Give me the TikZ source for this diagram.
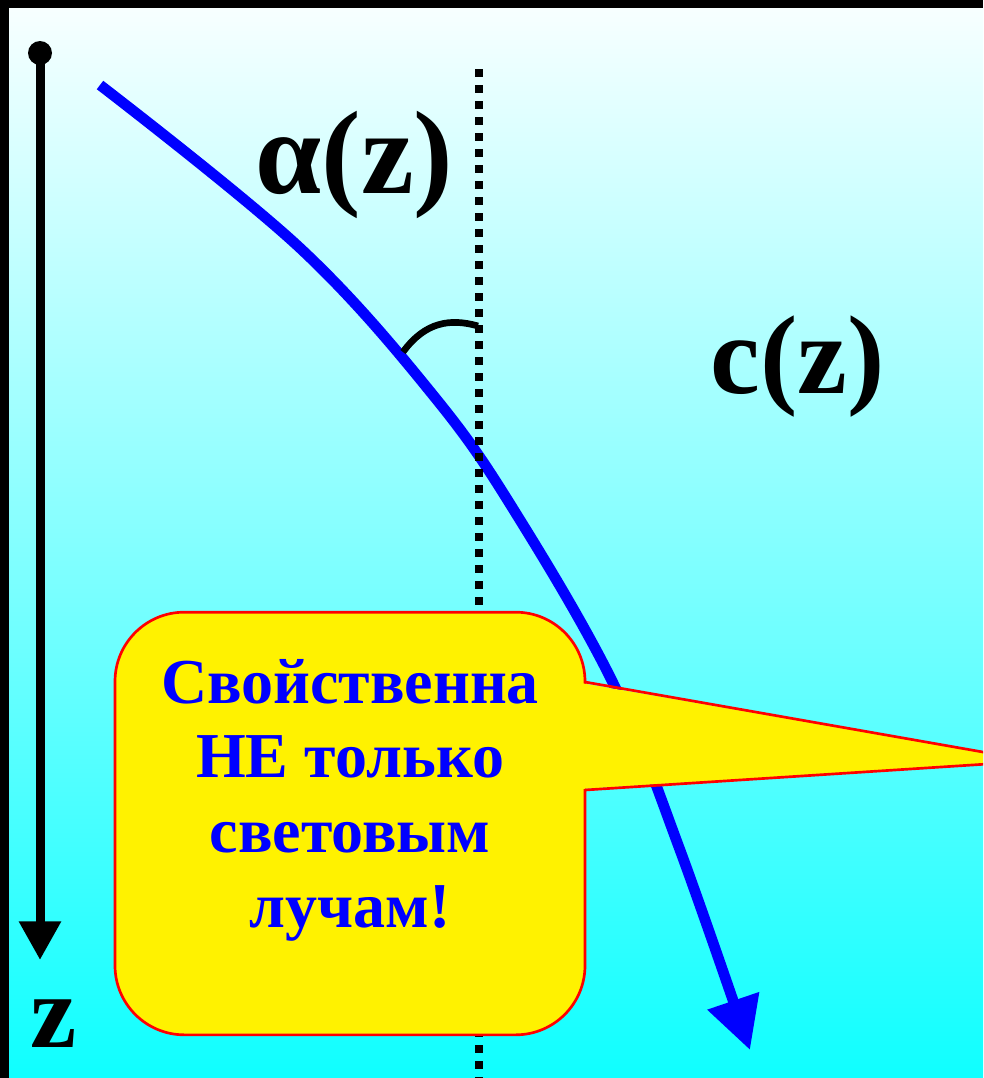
\documentclass[tikz,border=0pt]{standalone}
\usepackage{fontspec}
\setmainfont{Liberation Serif}
\usepackage{xcolor}
\usepackage{tikz}
\usetikzlibrary{arrows.meta}
\usetikzlibrary{positioning}

\begin{document}
\begin{tikzpicture}[x=0.75pt, y=-0.75pt,
  lbl/.style={inner sep=0pt, anchor=base west, font=\bfseries\fontsize{#1}{#1}\selectfont},
  axis/.style={line width=6.75pt, -{Triangle[length=29pt, width=30pt]}},
  ray/.style={blue, line width=8pt, -{Triangle[length=39pt, width=39pt]}},
  dotline/.style={line width=6pt, dash pattern=on 6pt off 6pt},
  callbox/.style={rectangle, draw=red, fill=yellow, line width=2pt, rounded corners=52pt,
    minimum width=352.5pt, minimum height=317pt}]
  \useasboundingbox (0,0) rectangle (983,1078);
  \clip (0,0) rectangle (983,1078);
  \fill[black] (0,0) rectangle (983,1078);
  \shade[top color=white!97!cyan, bottom color=cyan!94!white] (9,8) rectangle (983,1078);

  % depth axis
  \node[circle, fill=black, inner sep=0pt, minimum size=18pt] (origin) at (40,53) {};
  \coordinate (zend) at (40,960);
  \draw[axis] (origin.center) -- (zend);
  \node[lbl=78pt] (zlbl) at (30,1047) {z};

  % the bent ray
  \draw[ray] plot[smooth, tension=0.6] coordinates
    {(100,85) (300,248) (437,400) (520,520) (615,687) (680,850) (750,1050)};

  % vertical and angle
  \coordinate (vtop) at (478.5,69);
  \coordinate (vbot) at (478.5,1078);
  \draw[dotline] (vtop) -- (vbot);
  \draw[line width=5pt] (403,352) .. controls (425,322) and (450,318) .. (478,326);

  \node[lbl=89pt] (alpha) at (255,193) {α(z)};
  \node[lbl=84pt] (speed) at (710,393) {c(z)};

  % callout
  \node[callbox] (callout) at (350,823.5) {};
  \coordinate (tip) at (1034,761);
  \fill[yellow] (581,683) -- (tip) -- (581,789) -- cycle;
  \draw[red, line width=2pt] (585,682) -- (tip) -- (585,790);
  \node[text=blue, align=center, font=\bfseries\fontsize{48pt}{56pt}\selectfont] (note)
    at (350,800) {Свойственна\\НЕ только\\световым\\лучам!};
\end{tikzpicture}
\end{document}
